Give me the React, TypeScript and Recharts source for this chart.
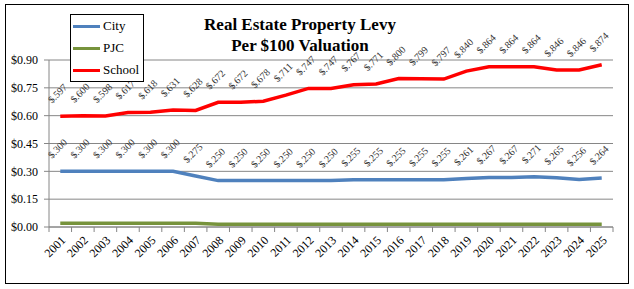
import React from "react";
import { LineChart, Line, XAxis, YAxis, CartesianGrid, LabelList } from "recharts";

const years = [
  "2001", "2002", "2003", "2004", "2005", "2006", "2007", "2008", "2009", "2010",
  "2011", "2012", "2013", "2014", "2015", "2016", "2017", "2018", "2019", "2020",
  "2021", "2022", "2023", "2024", "2025",
];
const cityLevy = [
  0.3, 0.3, 0.3, 0.3, 0.3, 0.3, 0.275, 0.25, 0.25, 0.25,
  0.25, 0.25, 0.25, 0.255, 0.255, 0.255, 0.255, 0.255, 0.261, 0.267,
  0.267, 0.271, 0.265, 0.256, 0.264,
];
const pjcLevy = [
  0.02, 0.02, 0.02, 0.02, 0.02, 0.02, 0.02, 0.015, 0.015, 0.015,
  0.015, 0.015, 0.015, 0.015, 0.015, 0.015, 0.015, 0.015, 0.015, 0.015,
  0.015, 0.015, 0.015, 0.015, 0.015,
];
const schoolLevy = [
  0.597, 0.6, 0.598, 0.617, 0.618, 0.631, 0.628, 0.672, 0.672, 0.678,
  0.711, 0.747, 0.747, 0.767, 0.771, 0.8, 0.799, 0.797, 0.84, 0.864,
  0.864, 0.864, 0.846, 0.846, 0.874,
];
const yTicks = [0, 0.15, 0.3, 0.45, 0.6, 0.75, 0.9];
const seriesNames = ["City", "PJC", "School"];
const titleLines = ["Real Estate Property Levy", "Per $100 Valuation"];

const data = years.map((y, i) => ({
  year: y,
  city: cityLevy[i],
  pjc: pjcLevy[i],
  school: schoolLevy[i],
}));

const FONT = "'Liberation Serif', 'Times New Roman', serif";
const W = 634;
const H = 289;
const PLOT_LEFT = 49;
const PLOT_RIGHT = 613;
const PLOT_TOP = 60;
const PLOT_BOTTOM = 227;
const BAND = (PLOT_RIGHT - PLOT_LEFT) / years.length;
const GRAY = "#868686";
const COLORS = { city: "#4F81BD", pjc: "#77933C", school: "#FF0000" };

const fmtLabel = (v: number) => "$" + v.toFixed(3).replace(/^0/, "");

const DataLabel = (props: any) => {
  const { x, y, value } = props;
  if (x == null || y == null) return null;
  const lx = x - 2;
  const ly = y - 22;
  return (
    <text
      x={lx}
      y={ly}
      transform={`rotate(-45, ${lx}, ${ly})`}
      textAnchor="middle"
      dominantBaseline="middle"
      fontSize={10}
      fontFamily={FONT}
      fill="#333"
    >
      {fmtLabel(value)}
    </text>
  );
};

const XTick = (props: any) => {
  const { x, y, payload, index } = props;
  const axisY = y - 5;
  const tx = x + 4;
  const ty = y + 7;
  return (
    <g>
      <line x1={x - BAND / 2} x2={x - BAND / 2} y1={axisY} y2={axisY + 5} stroke={GRAY} />
      {index === years.length - 1 && (
        <line x1={x + BAND / 2} x2={x + BAND / 2} y1={axisY} y2={axisY + 5} stroke={GRAY} />
      )}
      <text
        x={tx}
        y={ty}
        transform={`rotate(-45, ${tx}, ${ty})`}
        textAnchor="end"
        dominantBaseline="middle"
        fontSize={12}
        fontFamily={FONT}
        fill="#000"
      >
        {payload.value}
      </text>
    </g>
  );
};

export default function App() {
  const legendItems = [
    { name: seriesNames[0], color: COLORS.city },
    { name: seriesNames[1], color: COLORS.pjc },
    { name: seriesNames[2], color: COLORS.school },
  ];
  return (
    <div style={{ position: "absolute", left: 0, top: 0, width: W, height: H, background: "#fff", fontFamily: FONT }}>
      <div
        style={{
          position: "absolute",
          left: 5,
          top: 4,
          width: 622,
          height: 278,
          border: "1px solid #000",
          boxSizing: "content-box",
        }}
      />
      <LineChart
        width={W}
        height={H}
        data={data}
        margin={{ top: PLOT_TOP, right: W - PLOT_RIGHT, left: PLOT_LEFT - 40, bottom: H - PLOT_BOTTOM - 40 }}
        style={{ position: "absolute", left: 0, top: 0 }}
      >
        <CartesianGrid vertical={false} stroke={GRAY} strokeDasharray="" />
        <XAxis
          dataKey="year"
          height={40}
          padding={{ left: BAND / 2, right: BAND / 2 }}
          axisLine={{ stroke: GRAY }}
          tickLine={false}
          tickSize={5}
          tickMargin={0}
          interval={0}
          tick={<XTick />}
        />
        <YAxis
          width={40}
          domain={[0, 0.9]}
          ticks={yTicks}
          axisLine={{ stroke: GRAY }}
          tickLine={{ stroke: GRAY }}
          tickSize={5}
          tickMargin={6}
          tickFormatter={(v: number) => "$" + v.toFixed(2)}
          tick={{ fontSize: 12, fontFamily: FONT, fill: "#000" }}
        />
        <Line type="linear" dataKey="pjc" stroke={COLORS.pjc} strokeWidth={3.5} dot={false} isAnimationActive={false} />
        <Line type="linear" dataKey="city" stroke={COLORS.city} strokeWidth={3.5} dot={false} isAnimationActive={false}>
          <LabelList dataKey="city" content={<DataLabel />} />
        </Line>
        <Line type="linear" dataKey="school" stroke={COLORS.school} strokeWidth={3.5} dot={false} isAnimationActive={false}>
          <LabelList dataKey="school" content={<DataLabel />} />
        </Line>
      </LineChart>
      <div
        style={{
          position: "absolute",
          left: 300,
          top: 14,
          transform: "translateX(-50%)",
          textAlign: "center",
          fontWeight: "bold",
          fontSize: 17,
          lineHeight: "21px",
          whiteSpace: "nowrap",
          color: "#000",
        }}
      >
        <div>{titleLines[0]}</div>
        <div>{titleLines[1]}</div>
      </div>
      <div
        style={{
          position: "absolute",
          left: 70,
          top: 14,
          width: 72,
          height: 66,
          border: "1px solid #000",
          background: "#fff",
        }}
      >
        {legendItems.map((it, i) => (
          <div
            key={it.name}
            style={{ position: "absolute", left: 2, top: 3 + i * 22, height: 16, display: "flex", alignItems: "center" }}
          >
            <div style={{ width: 27, height: 3, background: it.color }} />
            <span style={{ marginLeft: 3, fontSize: 13, color: "#000" }}>{it.name}</span>
          </div>
        ))}
      </div>
    </div>
  );
}
